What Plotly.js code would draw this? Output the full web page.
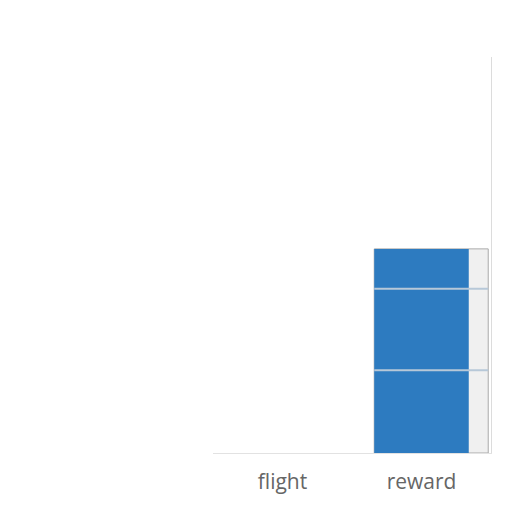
<!DOCTYPE html>
<html>
<head>
<meta charset="utf-8">
<script src="https://cdn.plot.ly/plotly-3.0.1.min.js"></script>
<style>
  html, body { margin: 0; padding: 0; background: #fff; }
  #chart { width: 512px; height: 512px; }
</style>
</head>
<body>
<div id="chart"></div>
<script>
// categories and stacked segment values
var categories = ['flight', 'reward'];
var segLow = [null, 1];
var segMid = [null, 1];
var segTop = [null, 0.5];
var barColor = '#2d7bc0';
var shadeColor = '#f0f0f0';
var sepColor = '#b7c8d8';

var totals = segLow.map(function (v, i) {
  return v === null ? null : v + segMid[i] + segTop[i];
});
// segment boundaries (cumulative sums) for the separator lines
var sepX = [], sepBase = [];
categories.forEach(function (c, i) {
  if (segLow[i] === null) return;
  sepX.push(c, c);
  sepBase.push(segLow[i], segLow[i] + segMid[i]);
});

var data = [
  {
    type: 'bar', x: categories, y: totals,
    width: 0.82, offset: -0.34,
    marker: {color: shadeColor, line: {color: '#a9a9a9', width: 1}},
    hoverinfo: 'skip'
  },
  {
    type: 'bar', x: categories, y: totals,
    width: 0.68, offset: -0.34,
    marker: {color: barColor, line: {width: 0}},
    hoverinfo: 'x+y'
  },
  {
    type: 'bar', x: sepX, y: sepX.map(function () { return 0.025; }), base: sepBase,
    width: 0.82, offset: -0.34,
    marker: {color: sepColor, line: {width: 0}},
    hoverinfo: 'skip'
  }
];

var layout = {
  width: 512,
  height: 512,
  margin: {l: 213, r: 21, t: 57, b: 59},
  paper_bgcolor: '#fff',
  plot_bgcolor: '#fff',
  showlegend: false,
  barmode: 'overlay',
  font: {family: 'Open Sans, DejaVu Sans, sans-serif', color: '#555'},
  xaxis: {
    type: 'category',
    range: [-0.5, 1.5],
    showgrid: false,
    showline: true,
    linecolor: '#e2e2e2',
    ticks: '',
    ticklabelstandoff: 10,
    tickfont: {size: 21, color: '#666'}
  },
  yaxis: {
    side: 'right',
    range: [0, 4.85],
    showgrid: false,
    zeroline: false,
    showline: true,
    linecolor: '#dcdcdc',
    showticklabels: false,
    ticks: ''
  }
};

Plotly.newPlot('chart', data, layout, {displayModeBar: false, staticPlot: true});
</script>
</body>
</html>
